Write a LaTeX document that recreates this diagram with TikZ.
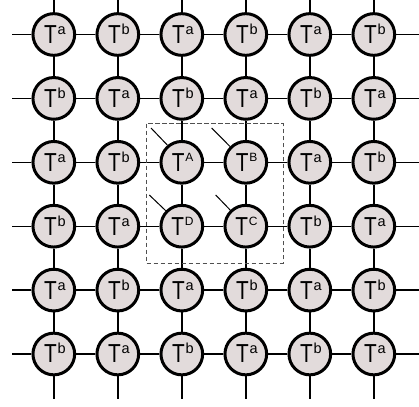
\documentclass[tikz,border=0pt]{standalone}
\usepackage{fontspec}
\setmainfont{Liberation Sans}
\newfontfamily\tfont{Liberation Sans}[FakeStretch=0.8]
\definecolor{tfill}{RGB}{226,219,219}
\definecolor{dashgray}{RGB}{80,80,80}
\newcommand\labl[1]{\hspace*{2pt}{\tfont T}\kern0.8pt\raisebox{9pt}[0pt][0pt]{\fontsize{14.5}{14.5}\selectfont #1}}
\newcommand\labu[1]{\hspace*{1.5pt}{\tfont T}\kern0.8pt\raisebox{9.4pt}[0pt][0pt]{\fontsize{12}{12}\selectfont #1}}
\begin{document}
\begin{tikzpicture}[x=1pt,y=1pt,
  tn/.style={circle,draw=black,line width=3pt,fill=tfill,minimum size=41.7pt,inner sep=0pt,
    font=\fontsize{26}{26}\selectfont},
  gl/.style={line width=1.4pt,black},
  leg/.style={line width=1pt,black},
  box/.style={draw=dashgray,line width=0.9pt,dash pattern=on 4.5pt off 2.5pt}]
\useasboundingbox (0,0) rectangle (419,-406);
\foreach \row [count=\r] in {{a/l,b/l,a/l,b/l,a/l,b/l},{b/l,a/l,b/l,a/l,b/l,a/l},{a/l,b/l,A/u,B/u,a/l,b/l},{b/l,a/l,D/u,C/u,b/l,a/l},{a/l,b/l,a/l,b/l,a/l,b/l},{b/l,a/l,b/l,a/l,b/l,a/l}}{
  \foreach \l/\k [count=\c] in \row {
    \node[tn] (n\r\c) at ({53.8+64*(\c-1)},{-34.5-63.9*(\r-1)}) {\csname lab\k\endcsname{\l}};
  }
}
% stub coordinates
\foreach \i in {1,...,6}{
  \coordinate (L\i) at (12,{-34.5-63.9*(\i-1)});
  \coordinate (R\i) at (419,{-34.5-63.9*(\i-1)});
  \coordinate (U\i) at ({53.8+64*(\i-1)},0);
  \coordinate (D\i) at ({53.8+64*(\i-1)},-399);
  \draw[gl] (L\i) -- (n\i1);
  \draw[gl] (n\i6) -- (R\i);
  \draw[gl] (U\i) -- (n1\i);
  \draw[gl] (n6\i) -- (D\i);
}
\foreach \i in {1,...,6}{
  \foreach \j [evaluate=\j as \jn using int(\j+1)] in {1,...,5}{
    \draw[gl] (n\i\j) -- (n\i\jn);
    \draw[gl] (n\j\i) -- (n\jn\i);
  }
}
% dashed block
\draw[box] (146,-123.7) rectangle (283,-263);
% physical legs
\coordinate (pA) at (151,-128);
\coordinate (pB) at (211.7,-128);
\coordinate (pD) at (149.3,-195);
\coordinate (pC) at (215.7,-195);
\draw[leg] (pA) -- (n33.130);
\draw[leg] (pB) -- (n34.135);
\draw[leg] (pD) -- (n43.136);
\draw[leg] (pC) -- (n44.134);
\end{tikzpicture}
\end{document}
